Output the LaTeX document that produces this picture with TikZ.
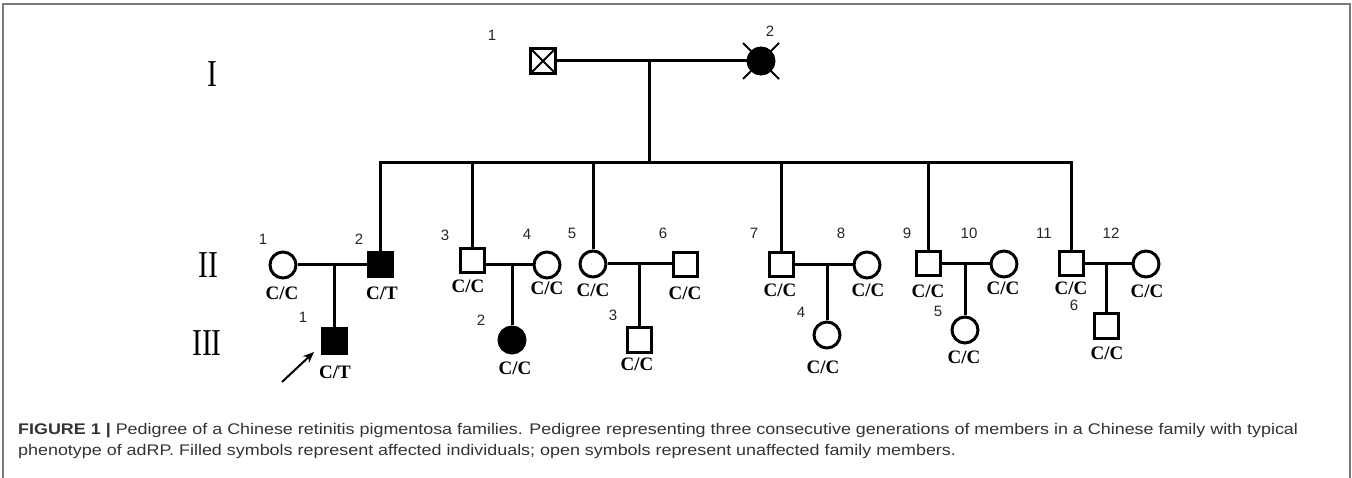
\documentclass[tikz,border=0pt]{standalone}
\usepackage{fontspec}
\setmainfont{Liberation Serif}
\setsansfont{Liberation Sans}
\usetikzlibrary{calc,arrows.meta}
\definecolor{frame}{HTML}{7A7A7A}
\definecolor{captxt}{HTML}{333333}
\tikzset{
  lw/.style={line width=3pt},
  male/.style={draw, lw, rectangle, minimum size=24pt, inner sep=0pt},
  female/.style={draw, lw, circle, minimum size=26pt, inner sep=0pt},
  aff/.style={fill=black},
  gt/.style={font=\fontsize{19}{19}\selectfont\bfseries, inner sep=0pt},
  num/.style={font=\sffamily\fontsize{15}{15}\selectfont, text=black!85, inner sep=0pt},
  gen/.style={font=\fontsize{38}{38}\selectfont, inner sep=0pt},
  rel/.style={lw},
  captext/.style={font=\sffamily\fontsize{15.4}{15.4}\selectfont, text=captxt, inner sep=0pt, anchor=base west}
}
\begin{document}
\begin{tikzpicture}[x=1pt,y=-1pt]
\useasboundingbox (0,0) rectangle (1352,478);
\draw[frame, line width=1.5pt] (3,478) -- (3,4) -- (1350,4) -- (1350,478);

% generation labels
\node[gen] (gI) at (212,74) {\scalebox{0.78}[1]{I}};
\node[gen] (gII) at (208,265) {\scalebox{0.78}[1]{II}};
\node[gen] (gIII) at (207,343) {\scalebox{0.78}[1]{III}};

% generation I
\node[male, minimum size=25pt, path picture={
  \draw[line width=2pt] (path picture bounding box.north west) -- (path picture bounding box.south east);
  \draw[line width=2pt] (path picture bounding box.south west) -- (path picture bounding box.north east);}] (i1) at (543,61) {};
\node[female, aff] (i2) at (761,61) {};
\draw[line width=2pt] ($(i2)+(-18,-18)$) -- ($(i2)+(18,18)$);
\draw[line width=2pt] ($(i2)+(-18,18)$) -- ($(i2)+(18,-18)$);
\node[num] (ni1) at (492,35) {1};
\node[num] (ni2) at (770,31) {2};
\draw[rel] (i1) -- (i2);
\coordinate (im) at ($(i1)!0.49!(i2)$);
\coordinate (sib) at ($(im)+(0,102)$);
\draw[rel] (im) -- (sib);

% generation II
\node[female] (a1) at (283,265) {};
\node[male, aff] (a2) at (380,265) {};
\node[male] (a3) at (472,261) {};
\node[female] (a4) at (547,265) {};
\node[female] (a5) at (593,264) {};
\node[male] (a6) at (685,265) {};
\node[male] (a7) at (781,265) {};
\node[female] (a8) at (867,265) {};
\node[male] (a9) at (928,264) {};
\node[female] (a10) at (1004,264) {};
\node[male] (a11) at (1071,264) {};
\node[female] (a12) at (1146,264) {};

% sibship
\foreach \c in {a2,a3,a5,a7,a9,a11}{
  \draw[rel, line join=miter] (\c.north) |- (sib);
}

% marriages II
\draw[rel] (a1.east) -- (a2.west);
\draw[rel] (a4.west) -- (a4.west -| a3.east);
\draw[rel] (a5.east) -- (a5.east -| a6.west);
\draw[rel] (a7.east) -- (a8.west);
\draw[rel] (a9.east) -- (a10.west);
\draw[rel] (a11.east) -- (a12.west);

% generation III
\node[male, aff] (b1) at (334,341) {};
\node[female, aff] (b2) at (512,340) {};
\node[male] (b3) at (639,340) {};
\node[female] (b4) at (827,335) {};
\node[female] (b5) at (965,330) {};
\node[male] (b6) at (1106,326) {};

\draw[rel] (b1.north) -- (b1.north |- a2.west);
\draw[rel] (b2.north) -- (b2.north |- a4.west);
\draw[rel] (b3.north) -- (b3.north |- a5.east);
\draw[rel] (b4.north) -- (b4.north |- a7.east);
\draw[rel] (b5.north) -- (b5.north |- a9.east);
\draw[rel] (b6.north) -- (b6.north |- a11.east);

% proband arrow
\coordinate (arT) at (282,382);
\coordinate (arH) at (314,352);
\draw[line width=2pt, -{Stealth[length=11pt,width=9pt]}] (arT) -- (arH);

% numbers
\node[num] at (263,239) {1};
\node[num] at (359,239) {2};
\node[num] at (445,235) {3};
\node[num] at (527,234) {4};
\node[num] at (572,233) {5};
\node[num] at (663,233) {6};
\node[num] at (754,233) {7};
\node[num] at (841,233) {8};
\node[num] at (907,233) {9};
\node[num] at (969,233) {10};
\node[num] at (1044,233) {11};
\node[num] at (1111,233) {12};
\node[num] at (303,317) {1};
\node[num] at (481,320) {2};
\node[num] at (613,315) {3};
\node[num] at (801,312) {4};
\node[num] at (938,311) {5};
\node[num] at (1074,305) {6};

% genotypes
\node[gt] at (282,293) {C/C};
\node[gt] at (382,293) {C/T};
\node[gt] at (335,372) {C/T};
\node[gt] at (468,286) {C/C};
\node[gt] at (547,288) {C/C};
\node[gt] at (515,368) {C/C};
\node[gt] at (593,290) {C/C};
\node[gt] at (685,293) {C/C};
\node[gt] at (637,364) {C/C};
\node[gt] at (780,290) {C/C};
\node[gt] at (868,290) {C/C};
\node[gt] at (823,367) {C/C};
\node[gt] at (928,291) {C/C};
\node[gt] at (1003,288) {C/C};
\node[gt] at (964,357) {C/C};
\node[gt] at (1071,288) {C/C};
\node[gt] at (1147,291) {C/C};
\node[gt] at (1107,353) {C/C};

% caption
\node[captext] (c1) at (18,434) {\scalebox{1.163}[1]{\textbf{FIGURE 1 |} Pedigree of a Chinese retinitis pigmentosa families. Pedigree representing three consecutive generations of members in a Chinese family with typical}};
\node[captext] (c2) at (18,455) {\scalebox{1.163}[1]{phenotype of adRP. Filled symbols represent affected individuals; open symbols represent unaffected family members.}};
\end{tikzpicture}
\end{document}
